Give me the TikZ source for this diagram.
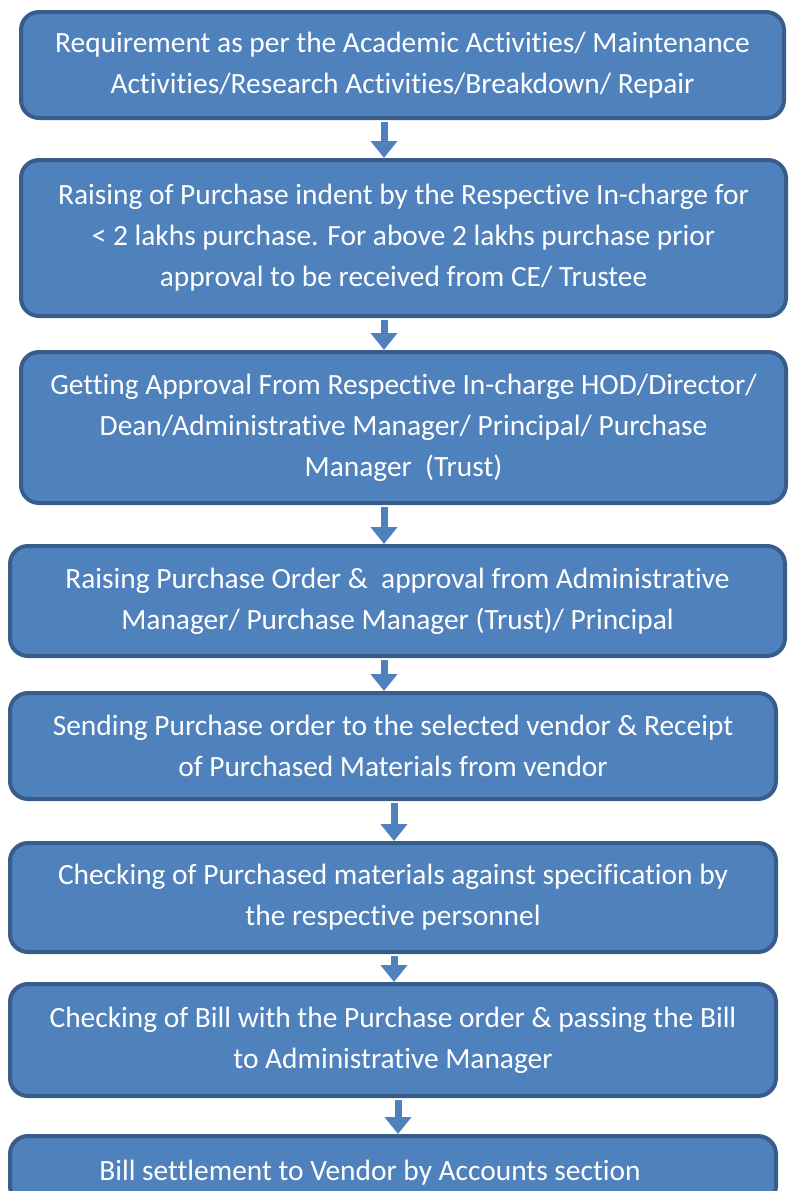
\documentclass[tikz,border=0pt]{standalone}
\usepackage{fontspec}
\setmainfont[Ligatures=NoCommon]{Carlito}
\usetikzlibrary{arrows.meta}
\definecolor{boxFill}{HTML}{4F81BD}
\definecolor{boxLine}{HTML}{385D8A}

\begin{document}
\begin{tikzpicture}[x=1pt,y=-1pt]

          \tikzstyle{stepbox} = [draw=boxLine, fill=boxFill, line width=4pt, rounded corners=18pt,
                                 text=white, align=center, inner sep=0pt,
                                 font=\fontsize{29.4}{41}\selectfont];
          \tikzstyle{flowarrow} = [boxFill, line width=7pt, shorten <=2pt,
                                   -{Triangle[width=26pt,length=17pt]}];

          \useasboundingbox (0,0) rectangle (788,1191);

          \node[stepbox, minimum width=763pt, minimum height=106pt] (req) at (402.5,65)
            {Requirement as per the Academic Activities/ Maintenance\\Activities/Research Activities/Breakdown/ Repair};
          \node[stepbox, minimum width=765pt, minimum height=156pt] (indent) at (403.5,238)
            {Raising of Purchase indent by the Respective In-charge for\\< 2 lakhs purchase. For above 2 lakhs purchase prior\\approval to be received from CE/ Trustee};
          \node[stepbox, minimum width=765pt, minimum height=151pt] (approval) at (403.5,427.5)
            {Getting Approval From Respective In-charge HOD/Director/\\Dean/Administrative Manager/ Principal/ Purchase\\Manager\ \ (Trust)};
          \node[stepbox, minimum width=775pt, minimum height=110pt] (order) at (397.5,601)
            {Raising Purchase Order \&\ \ approval from Administrative\\Manager/ Purchase Manager (Trust)/ Principal};
          \node[stepbox, minimum width=766pt, minimum height=106pt] (sending) at (393,746)
            {Sending Purchase order to the selected vendor \& Receipt\\of Purchased Materials from vendor};
          \node[stepbox, minimum width=766pt, minimum height=109pt] (checkmat) at (393,897.5)
            {Checking of Purchased materials against specification by\\the respective personnel};
          \node[stepbox, minimum width=766pt, minimum height=112pt] (checkbill) at (393,1040)
            {Checking of Bill with the Purchase order \& passing the Bill\\to Administrative Manager};
          \node[stepbox, minimum width=766pt, minimum height=68pt] (settle) at (393,1170)
            {\rule{0pt}{26pt}Bill settlement to Vendor by Accounts section\hspace*{46pt}};

          \draw[flowarrow] (req.south -| 384,0) -- (indent.north -| 384,0);
          \draw[flowarrow] (indent.south -| 384,0) -- (approval.north -| 384,0);
          \draw[flowarrow] (approval.south -| 384,0) -- (order.north -| 384,0);
          \draw[flowarrow] (order.south -| 384,0) -- (sending.north -| 384,0);
          \draw[flowarrow] (sending.south -| 394,0) -- (checkmat.north -| 394,0);
          \draw[flowarrow] (checkmat.south -| 394,0) -- (checkbill.north -| 394,0);
          \draw[flowarrow] (checkbill.south -| 398,0) -- (settle.north -| 398,0);
        \end{tikzpicture}
\end{document}
